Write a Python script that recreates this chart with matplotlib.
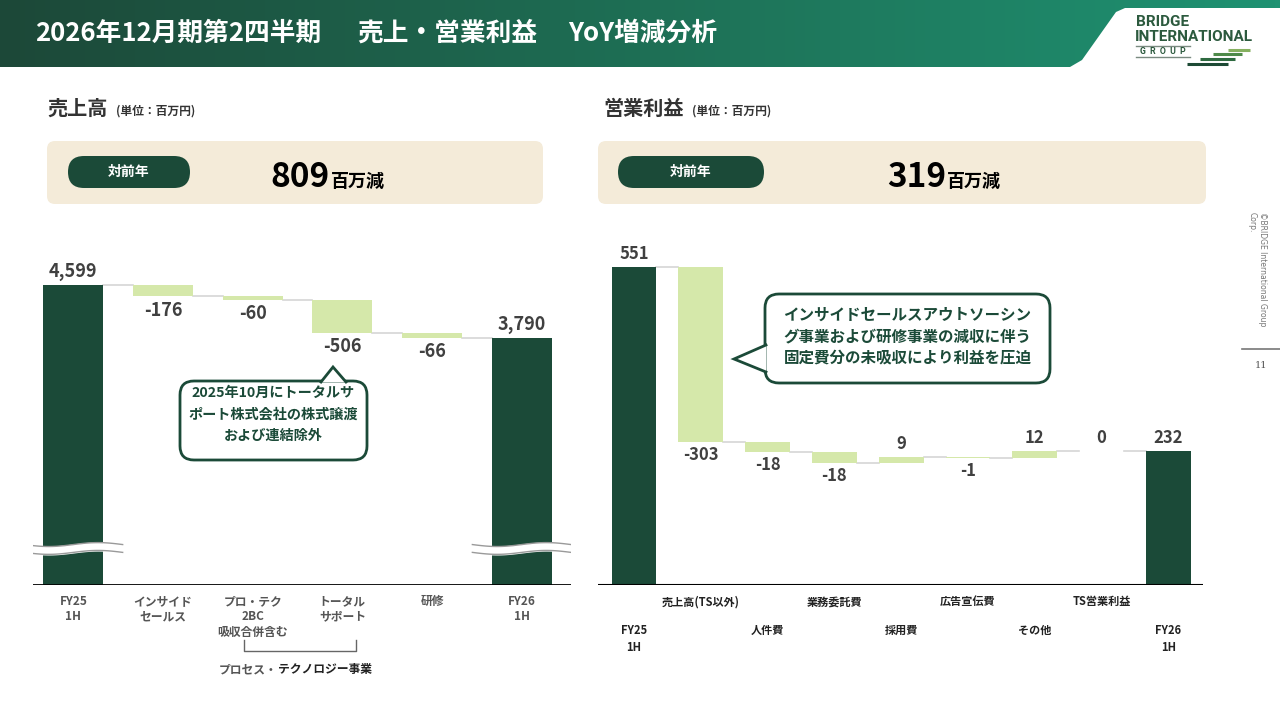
import numpy as np
import matplotlib
matplotlib.use("Agg")
import matplotlib.pyplot as plt
from matplotlib.patches import FancyBboxPatch, Polygon
from matplotlib.colors import LinearSegmentedColormap

plt.rcParams['font.family'] = ['Noto Sans CJK JP', 'DejaVu Sans']

# -----------------------------
# Data
# -----------------------------
sales_labels = ["FY25\n1H", "インサイド\nセールス", "プロ・テク\n2BC\n吸収合併含む",
                "トータル\nサポート", "研修", "FY26\n1H"]
sales_values = [4599, -176, -60, -506, -66, 3790]
sales_text = ["4,599", "-176", "-60", "-506", "-66", "3,790"]

op_labels = ["FY25\n1H", "売上高(TS以外)", "人件費", "業務委託費", "採用費",
             "広告宣伝費", "その他", "TS営業利益", "FY26\n1H"]
op_values = [551, -303, -18, -18, 9, -1, 12, 0, 232]
op_text = ["551", "-303", "-18", "-18", "9", "-1", "12", "0", "232"]

DARK = "#1b4a38"
LIGHT = "#d5e8aa"
CONN = "#d6d6d6"
NUM = "#404040"

fig = plt.figure(figsize=(12.8, 7.2), dpi=100)

# background / decoration axes in pixel coords
bg = fig.add_axes([0, 0, 1, 1], zorder=0)
bg.set_xlim(0, 1280)
bg.set_ylim(720, 0)
bg.axis("off")

# -----------------------------
# Header banner
# -----------------------------
verts = [(0, 0), (1280, 0), (1280, 8), (1125, 8), (1116, 12), (1082, 60),
         (1070, 67), (0, 67), (0, 0)]
banner = Polygon(verts, closed=True, facecolor="none", edgecolor="none")
bg.add_patch(banner)
cmap = LinearSegmentedColormap.from_list("g", ["#1c4838", "#1e6f55", "#1f9272"])
grad = np.linspace(0, 1, 256).reshape(1, -1)
im = bg.imshow(grad, cmap=cmap, extent=(0, 1280, 67, 0), aspect="auto", zorder=1)
im.set_clip_path(banner)

bg.text(35, 33, "2026年12月期第2四半期", color="white", fontsize=18.5,
        fontweight="bold", va="center", ha="left", zorder=2)
bg.text(357, 33, "売上・営業利益", color="white", fontsize=18.5,
        fontweight="bold", va="center", ha="left", zorder=2)
bg.text(568, 33, "YoY増減分析", color="white", fontsize=18.5,
        fontweight="bold", va="center", ha="left", zorder=2)

# logo
logo_c = "#2c5a3e"
bg.text(1136, 22, "BRIDGE", color=logo_c, fontsize=11, fontweight="bold",
        family="Roboto", va="center", ha="left")
bg.text(1135, 37, "INTERNATIONAL", color=logo_c, fontsize=11, fontweight="bold",
        family="Roboto", va="center", ha="left")
bg.plot([1136, 1190], [45.5, 45.5], color="#7a8a80", lw=1)
bg.text(1140, 51, "G  R  O  U  P", color=logo_c, fontsize=6.3, fontweight="bold",
        family="Roboto", va="center", ha="left")
bg.plot([1136, 1190], [56.5, 56.5], color="#7a8a80", lw=1)
for (x0, x1, yy, c) in [(1228, 1250, 50, "#86b060"), (1213, 1242, 54, "#4e8a4a"),
                        (1200, 1235, 59, "#2e6a40"), (1187, 1228, 64, "#1d4a35")]:
    bg.plot([x0, x1], [yy, yy], color=c, lw=2.2, solid_capstyle="butt")

# right edge copyright / page number
bg.text(1267, 212, "©BRIDGE International Group\nCorp.", rotation=270,
        fontsize=5.5, color="#777777", family="DejaVu Sans", va="top", ha="left",
        rotation_mode="anchor", linespacing=1.2)
bg.plot([1242, 1280], [349, 349], color="#777777", lw=1.2)
bg.text(1261, 366, "11", fontsize=7, color="#555555", family="DejaVu Serif",
        ha="center", va="center")

# -----------------------------
# Section titles and summary panels
# -----------------------------
for x, title, ux in [(47, "売上高", 116), (603, "営業利益", 692)]:
    bg.text(x, 108, title, fontsize=14.5, fontweight="bold", color="#333333",
            va="center", ha="left")
    bg.text(ux, 111, "(単位：百万円)", fontsize=8.5, fontweight="bold",
            color="#333333", va="center", ha="left")

panels = [(47, 543, 68, 190, 330, "809"), (598, 1206, 618, 764, 946, "319")]
for (px0, px1, pill0, pill1, numx, num) in panels:
    bg.add_patch(FancyBboxPatch((px0, 141), px1 - px0, 63,
                                boxstyle="round,pad=0,rounding_size=8",
                                facecolor="#f4ebd9", edgecolor="none", zorder=1))
    bg.add_patch(FancyBboxPatch((pill0, 156), pill1 - pill0, 32,
                                boxstyle="round,pad=0,rounding_size=16",
                                facecolor=DARK, edgecolor="none", zorder=2))
    bg.text((pill0 + pill1) / 2, 172, "対前年", color="white", fontsize=10,
            fontweight="bold", ha="center", va="center", zorder=3)
    bg.text(numx, 187, num, color="black", fontsize=24, fontweight="bold",
            ha="right", va="baseline", zorder=3)
    bg.text(numx + 1, 187, "百万減", color="black", fontsize=13,
            fontweight="bold", ha="left", va="baseline", zorder=3)


# -----------------------------
# Waterfall helper
# -----------------------------
def waterfall(ax, values, texts, width, fs):
    n = len(values)
    level = 0
    bottoms, tops = [], []
    for i, v in enumerate(values):
        if i == 0 or i == n - 1:
            b, t = 0, v
            level = v
            ax.bar(i, v, width=width, color=DARK, zorder=3)
        else:
            b = level + min(v, 0)
            t = level + max(v, 0)
            ax.bar(i, t - b, bottom=b, width=width, color=LIGHT, zorder=3)
            level = level + v
        bottoms.append(b)
        tops.append(t)
        if i < n - 1:
            ax.plot([i + width / 2, i + 1 - width / 2], [level, level],
                    color=CONN, lw=1.2, zorder=2)
    ymax = ax.get_ylim()[1]
    off = ymax * 0.012
    for i, v in enumerate(values):
        if i == 0 or i == n - 1 or v >= 0:
            ax.text(i, tops[i] + off, texts[i], ha="center", va="bottom",
                    fontsize=fs, fontweight="bold", color=NUM, zorder=4)
        else:
            ax.text(i, bottoms[i] - off, texts[i], ha="center", va="top",
                    fontsize=fs, fontweight="bold", color=NUM, zorder=4)


# -----------------------------
# Left chart: sales
# -----------------------------
ax1 = fig.add_axes([33 / 1280, (720 - 585) / 720, 538 / 1280, 340 / 720], zorder=2)
ax1.patch.set_visible(False)
ax1.set_xlim(-0.45, 5.55)
ax1.set_ylim(0, 340 / (300 / 4599))
ax1.axis("off")
waterfall(ax1, sales_values, sales_text, 0.67, 13)
ax1.axhline(0, color="black", lw=2, zorder=5)
for i, lab in enumerate(sales_labels):
    ax1.text(i, -150, lab, ha="center", va="top", fontsize=8.5,
             fontweight="bold", color="#555555", linespacing=1.25)

# broken-axis marks on the total bars
xs = np.linspace(-0.55, 0.55, 100)
wave = 30 * np.sin(xs / 0.55 * np.pi)
for i in [0, len(sales_values) - 1]:
    ax1.fill_between(i + xs, 500 + wave, 620 + wave, color="white", zorder=4)
    ax1.plot(i + xs, 500 + wave, color="#9a9a9a", lw=1, zorder=4)
    ax1.plot(i + xs, 620 + wave, color="#9a9a9a", lw=1, zorder=4)

# bracket under process & technology items
bg.plot([244, 244, 356, 356], [640, 651, 651, 640], color="#666666", lw=1)
bg.text(219, 670, "プロセス・", fontsize=8.5, fontweight="bold",
        color="#555555", ha="left", va="center")
bg.text(278, 670, "テクノロジー事業", fontsize=8.5, fontweight="bold",
        color="#222222", ha="left", va="center")

# -----------------------------
# Right chart: operating profit
# -----------------------------
ax2 = fig.add_axes([598 / 1280, (720 - 585) / 720, 605 / 1280, 340 / 720], zorder=2)
ax2.patch.set_visible(False)
ax2.set_xlim(-0.54, 8.52)
ax2.set_ylim(0, 340 / (318 / 551))
ax2.axis("off")
waterfall(ax2, op_values, op_text, 0.67, 12)
ax2.axhline(0, color="black", lw=1.5, zorder=5)
for i, lab in enumerate(op_labels):
    if i in (0, len(op_labels) - 1):
        y = -68
    elif i % 2 == 1:
        y = -18
    else:
        y = -68
    ax2.text(i, y, lab, ha="center", va="top", fontsize=8, fontweight="bold",
             color="#222222", linespacing=1.35)

# -----------------------------
# Callouts
# -----------------------------
ov = fig.add_axes([0, 0, 1, 1], zorder=10)
ov.set_xlim(0, 1280)
ov.set_ylim(720, 0)
ov.axis("off")
ov.patch.set_visible(False)


def callout(x0, y0, w, h, tri, text, fs, lines_y):
    ov.add_patch(FancyBboxPatch((x0, y0), w, h,
                                boxstyle="round,pad=0,rounding_size=14",
                                facecolor="white", edgecolor=DARK, lw=2, zorder=1))
    ov.add_patch(Polygon(tri, closed=True, facecolor="white", edgecolor="none",
                         zorder=2))
    ov.plot([tri[0][0], tri[1][0], tri[2][0]], [tri[0][1], tri[1][1], tri[2][1]],
            color=DARK, lw=2, zorder=3, solid_joinstyle="miter")
    for t, yy in zip(text.split("\n"), lines_y):
        ov.text(x0 + w / 2, yy, t, ha="center", va="center", fontsize=fs,
                fontweight="bold", color=DARK, zorder=4)


callout(180, 381, 187, 79, [(321, 382), (333, 367), (346, 382)],
        "2025年10月にトータルサ\nポート株式会社の株式譲渡\nおよび連結除外",
        10.2, [393, 415, 436])
callout(765, 294, 285, 89, [(766, 345), (734, 359), (766, 372)],
        "インサイドセールスアウトソーシン\nグ事業および研修事業の減収に伴う\n固定費分の未吸収により利益を圧迫",
        11.2, [315, 336, 357])

fig.savefig("out.png", dpi=100)
